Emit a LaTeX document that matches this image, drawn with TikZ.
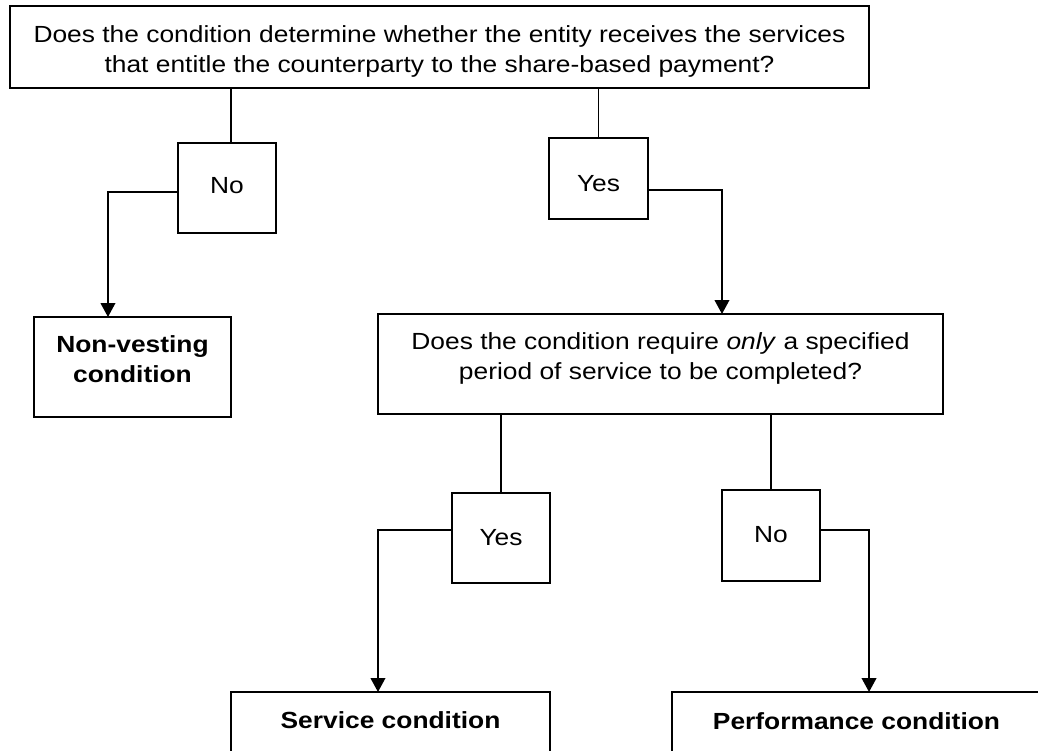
\documentclass[tikz,border=0pt]{standalone}
\usepackage{fontspec}
\setmainfont{Liberation Sans}[FakeStretch=1.13]
\usetikzlibrary{arrows.meta,calc,positioning}

\begin{document}
\begin{tikzpicture}[x=0.75pt,y=-0.75pt,every node/.style={block},
  block/.style={draw,rectangle,line width=1.4pt,inner sep=0pt,outer sep=0pt,
    align=center,anchor=base,font=\fontsize{17.5}{22.5}\selectfont},
  line/.style={line width=1.4pt},
  arr/.style={line,-{Triangle[length=10.5pt,width=11pt]}}]

        \useasboundingbox (0,0) rectangle (1038,750);

        \node (Q1) [minimum width=644.25pt,text height=49.5pt,text depth=12pt] at (439.5,72)
          {Does the condition determine whether the entity receives the services\\
           that entitle the counterparty to the share-based payment?};
        \node (N1) [minimum width=73.5pt,text height=37.5pt,text depth=30pt] at (227,193) {No};
        \node (Y1) [minimum width=74.25pt,text height=39.75pt,text depth=21pt] at (598.5,191) {Yes};
        \node (NV) [minimum width=147.75pt,text height=48.75pt,text depth=26.25pt] at (132.5,382)
          {\textbf{Non-vesting}\\ \textbf{condition}};
        \node (Q2) [minimum width=423.75pt,text height=49.125pt,text depth=25.875pt] at (660.5,379.5)
          {Does the condition require \textit{only} a specified\\
           period of service to be completed?};
        \node (Y2) [minimum width=73.5pt,text height=39pt,text depth=28.5pt] at (501,545) {Yes};
        \node (N2) [minimum width=73.5pt,text height=39pt,text depth=29.25pt] at (771,542) {No};
        \node (SC) [minimum width=239.25pt,text height=27pt,text depth=48pt] at (390.5,728)
          {\textbf{Service condition}};
        \node (PC) [minimum width=276.75pt,text height=27.75pt,text depth=47.25pt] at (856.5,729)
          {\textbf{Performance condition}};

        \draw[line] ([xshift=3pt]N1.north) -- ([xshift=3pt]N1.north |- Q1.south);
        \draw[line] (Y1.north) -- (Y1.north |- Q1.south);
        \draw[arr] ([yshift=-3pt]N1.west) -| ([xshift=-18.4pt]NV.north);
        \draw[arr] ([yshift=-8.6pt]Y1.east) -| ([xshift=46.1pt]Q2.north);

        \draw[line] (Y2.north |- Q2.south) -- (Y2.north);
        \draw[line] (N2.north |- Q2.south) -- (N2.north);
        \draw[arr] ([yshift=6pt]Y2.west) -| ([xshift=-9.4pt]SC.north);
        \draw[arr] ([yshift=4.1pt]N2.east) -| ([xshift=9.4pt]PC.north);
      \end{tikzpicture}
\end{document}
